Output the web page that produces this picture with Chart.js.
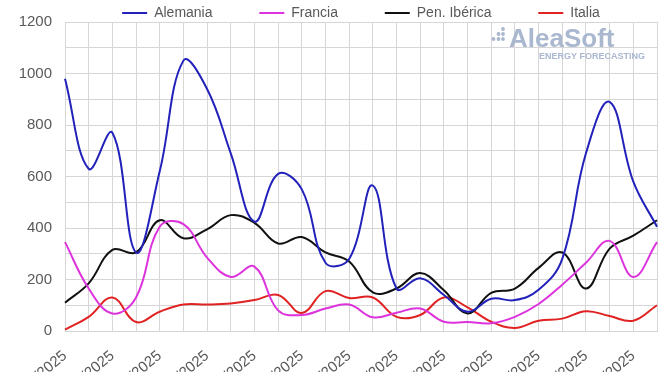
<!DOCTYPE html>
<html>
<head>
<meta charset="utf-8">
<script src="https://cdn.jsdelivr.net/npm/chart.js@4"></script>
<style>
  html, body { margin: 0; padding: 0; background: #fff; overflow: hidden; }
  #wrap { width: 672px; height: 372px; overflow: hidden; }
</style>
</head>
<body>
<div id="wrap"><canvas id="chart" width="672" height="420"></canvas></div>
<script>
const fechas = [
  "01/10/2025", "02/10/2025", "03/10/2025", "04/10/2025", "05/10/2025", "06/10/2025",
  "07/10/2025", "08/10/2025", "09/10/2025", "10/10/2025", "11/10/2025", "12/10/2025",
  "13/10/2025", "14/10/2025", "15/10/2025", "16/10/2025", "17/10/2025", "18/10/2025",
  "19/10/2025", "20/10/2025", "21/10/2025", "22/10/2025", "23/10/2025", "24/10/2025",
  "25/10/2025", "26/10/2025"
];
const alemania   = [980, 630, 770, 305, 620, 1050, 940, 690, 425, 610, 550, 265, 280, 565, 165, 205, 140, 75, 125, 120, 160, 280, 690, 890, 580, 405];
const francia    = [345, 165, 68, 130, 405, 415, 285, 210, 250, 80, 62, 87, 103, 53, 71, 87, 36, 35, 30, 55, 105, 180, 265, 350, 210, 345];
const penIberica = [110, 185, 315, 305, 430, 360, 395, 450, 420, 340, 365, 305, 270, 150, 165, 225, 158, 68, 148, 165, 245, 305, 165, 320, 370, 430];
const italia     = [5, 55, 130, 35, 75, 103, 103, 107, 120, 140, 70, 155, 128, 130, 55, 62, 130, 92, 36, 12, 40, 48, 77, 58, 40, 100];

const series = [
  { label: "Alemania", data: alemania, color: "#2222bb" },
  { label: "Francia", data: francia, color: "#dd33dd" },
  { label: "Pen. Ibérica", data: penIberica, color: "#111111" },
  { label: "Italia", data: italia, color: "#e02222" }
];

const FONT = "'Liberation Sans', Arial, sans-serif";
const GRID = "#d6d6d6";
const TEXT = "#595959";

// AleaSoft watermark, drawn under the lines
const watermark = {
  id: "watermark",
  beforeDatasetsDraw(chart) {
    const ctx = chart.ctx;
    ctx.save();
    ctx.fillStyle = "#a9b7cf";
    [[503, 29], [498.5, 34], [503, 34], [493.5, 39], [498.5, 39], [503, 39]].forEach(([x, y]) => {
      ctx.beginPath();
      ctx.arc(x, y, 1.9, 0, Math.PI * 2);
      ctx.fill();
    });
    ctx.font = "bold 26px " + FONT;
    ctx.textBaseline = "alphabetic";
    ctx.fillText("AleaSoft", 509, 47, 108);
    ctx.font = "bold 9px " + FONT;
    ctx.fillText("ENERGY FORECASTING", 539, 59, 107);
    ctx.restore();
  }
};

new Chart(document.getElementById("chart"), {
  type: "line",
  data: {
    labels: fechas,
    datasets: series.map(s => ({
      label: s.label,
      data: s.data,
      borderColor: s.color,
      backgroundColor: s.color,
      borderWidth: 2,
      pointRadius: 0,
      tension: 0.4,
      fill: false
    }))
  },
  options: {
    responsive: false,
    animation: false,
    layout: { padding: { left: 18, right: 15, top: 0, bottom: 0 } },
    plugins: {
      tooltip: { enabled: false },
      legend: {
        position: "top",
        fullSize: false,
        maxHeight: 20,
        labels: {
          color: TEXT,
          font: { family: FONT, size: 14 },
          usePointStyle: true,
          pointStyle: "line",
          pointStyleWidth: 25,
          padding: 4,
          generateLabels(chart) {
            const items = Chart.defaults.plugins.legend.labels.generateLabels(chart);
            items.forEach((it, i) => {
              if (i < items.length - 1) it.text += "           ";
            });
            return items;
          }
        }
      }
    },
    scales: {
      x: {
        grid: { color: GRID, drawTicks: false },
        border: { color: GRID },
        ticks: {
          color: TEXT,
          font: { family: FONT, size: 15 },
          autoSkip: false,
          minRotation: 40,
          maxRotation: 40,
          padding: 16,
          callback(v, i) { return i % 2 === 0 ? this.getLabelForValue(v) : ""; }
        },
        afterFit(scale) {
          scale.height = 89;
          scale.paddingLeft = 0;
          scale.paddingRight = 0;
        }
      },
      y: {
        min: 0,
        max: 1200,
        grid: { color: GRID, drawTicks: false },
        border: { color: GRID },
        ticks: {
          stepSize: 100,
          color: TEXT,
          font: { family: FONT, size: 15 },
          padding: 13,
          callback(v) { return v % 200 === 0 ? v : ""; }
        },
        afterFit(scale) { scale.width = 47; }
      }
    }
  },
  plugins: [watermark]
});
</script>
</body>
</html>
